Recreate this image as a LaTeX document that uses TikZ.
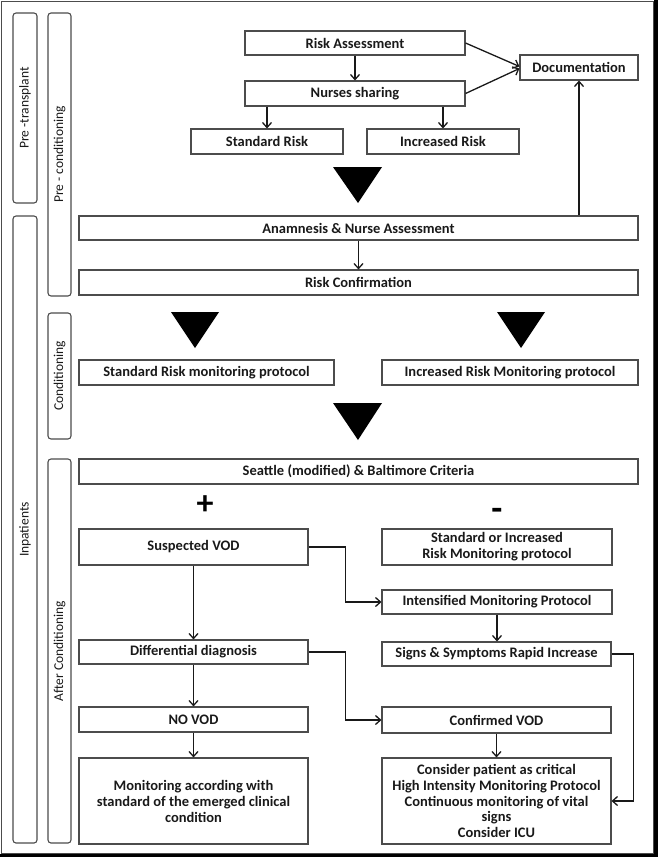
\documentclass[tikz,border=0pt]{standalone}
\usepackage{fontspec}
\setmainfont{Carlito}
\usetikzlibrary{arrows.meta}
\tikzset{
  box/.style={draw=black!70, line width=1.1pt, inner sep=1pt, align=center,
    font=\fontsize{14.5}{16}\selectfont\bfseries, text=black!90},
  side/.style={draw=black!70, line width=1.1pt, rounded corners=3pt, rotate=90,
    inner sep=0pt, font=\fontsize{13.5}{15}\selectfont, text=black!90},
  arr/.style={draw=black!90, line width=1.3pt, -{Straight Barb[length=5pt,width=9pt]}},
  tri/.style={fill=black, draw=none},
}
\begin{document}
\begin{tikzpicture}[x=1pt,y=-1pt]
\useasboundingbox (0,0) rectangle (658,857);
% frame
\draw[black!70, line width=1.5pt] (1.5,1.5) rectangle (654,854);
\fill[black] (654,0) rectangle (658,857);
\fill[black] (0,854) rectangle (658,857);

% side labels
\node[side, minimum width=190, minimum height=24] (pt) at (25,108) {Pre -transplant};
\node[side, minimum width=283, minimum height=23] (pc) at (59.5,154.5) {Pre - conditioning};
\node[side, minimum width=627, minimum height=24] (inp) at (25,529.5) {Inpatients};
\node[side, minimum width=126, minimum height=23] (cond) at (59.5,376) {Conditioning};
\node[side, minimum width=384, minimum height=23] (ac) at (59.5,651) {After Conditioning};

% boxes
\node[box, minimum width=220, minimum height=24] (ra) at (355,43) {Risk Assessment};
\node[box, minimum width=220, minimum height=25] (ns) at (355,93.5) {Nurses sharing};
\node[box, minimum width=152, minimum height=25] (sr) at (267,141.5) {Standard Risk};
\node[box, minimum width=152, minimum height=25] (ir) at (443,141.5) {Increased Risk};
\node[box, minimum width=118, minimum height=25] (doc) at (579,67.5) {Documentation};
\node[box, minimum width=559, minimum height=24] (an) at (358.5,228) {Anamnesis \& Nurse Assessment};
\node[box, minimum width=559, minimum height=25] (rc) at (358.5,282.5) {Risk Confirmation};
\node[box, minimum width=255, minimum height=25] (srm) at (206.5,372.5) {Standard Risk monitoring protocol};
\node[box, minimum width=256, minimum height=25] (irm) at (510,372.5) {Increased Risk Monitoring protocol};
\node[box, minimum width=559, minimum height=25] (sea) at (358.5,471.5) {Seattle (modified) \& Baltimore Criteria};
\node[box, minimum width=229, minimum height=36] (sv) at (193.5,547) {Suspected VOD};
\node[box, minimum width=230, minimum height=36] (soi) at (497,547) {Standard or Increased\\Risk Monitoring protocol};
\node[box, minimum width=230, minimum height=24] (imp) at (497,602) {Intensified Monitoring Protocol};
\node[box, minimum width=229, minimum height=24] (dd) at (193.5,652) {Differential diagnosis};
\node[box, minimum width=229, minimum height=24] (ssr) at (496.5,654) {Signs \& Symptoms Rapid Increase};
\node[box, minimum width=229, minimum height=25] (nv) at (193.5,719.5) {NO VOD};
\node[box, minimum width=229, minimum height=26] (cv) at (496.5,720) {Confirmed VOD};
\node[box, minimum width=229, minimum height=86] (mon) at (193.5,801) {Monitoring according with\\standard of the emerged clinical\\condition};
\node[box, minimum width=229, minimum height=86, font=\fontsize{14.5}{15.7}\selectfont\bfseries] (con) at (496.5,801) {Consider patient as critical\\High Intensity Monitoring Protocol\\Continuous monitoring of vital\\signs\\Consider ICU};

% plus / minus
\node[font=\fontsize{34}{34}\selectfont\bfseries, inner sep=0pt] (plus) at (205,505) {+};
\node[font=\fontsize{36}{36}\selectfont\bfseries, inner sep=0pt] (minus) at (497,514) {-};

% triangles
\fill[tri] (333,167) -- (382,167) -- (358,203) -- cycle;
\fill[tri] (171,312) -- (219,312) -- (195,348) -- cycle;
\fill[tri] (497,312) -- (545,312) -- (521,348) -- cycle;
\fill[tri] (333,403) -- (382,403) -- (358,440) -- cycle;

% connectors
\draw[arr] (ra.south) -- (ns.north);
\draw[arr] (ns.south -| sr.north) -- (sr.north);
\draw[arr] (ns.south -| ir.north) -- (ir.north);
\draw[arr] (ra.east) -- ([yshift=1pt]doc.west);
\draw[arr] (ns.east) -- ([yshift=-1pt]doc.west);
\draw[arr] (an.north -| doc.south) -- (doc.south);
\draw[arr] (an.south) -- (rc.north);
\draw[arr] (sv.east) -- ++(37,0) |- (imp.west);
\draw[arr] (sv.south) -- (dd.north);
\draw[arr] (imp.south) -- (imp.south |- ssr.north);
\draw[arr] (dd.east) -- ++(37,0) |- (cv.west);
\draw[arr] (dd.south) -- (nv.north);
\draw[arr] (nv.south) -- (mon.north);
\draw[arr] (cv.south) -- (cv.south |- con.north);
\draw[arr] (ssr.east) -- ++(22,0) |- (con.east);
\end{tikzpicture}
\end{document}
